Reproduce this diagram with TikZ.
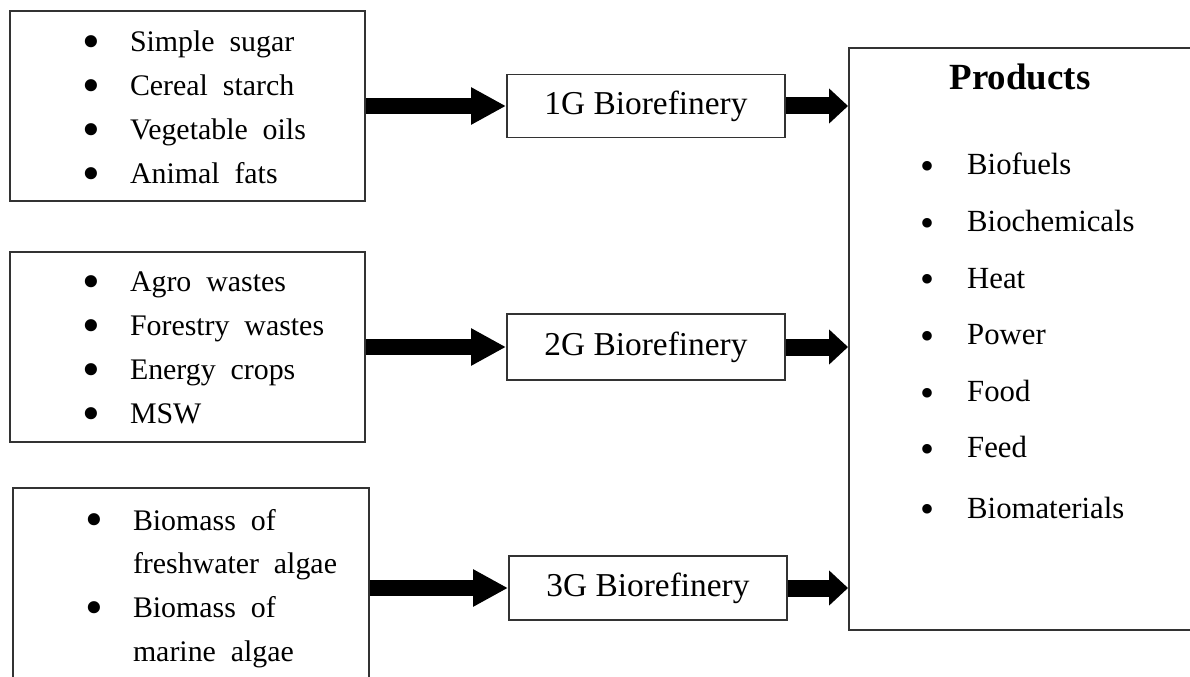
\documentclass[tikz,border=0pt]{standalone}
\usepackage{fontspec}
\setmainfont{Liberation Serif}
\usetikzlibrary{positioning,arrows.meta}
\newcommand{\listfont}{\fontsize{17}{25}\selectfont\spaceskip=.5em\relax}
\newcommand{\prodfont}{\fontsize{17.5}{32.2}\selectfont}
\newcommand{\bigbul}{\smash{\raisebox{-3.6pt}{\scalebox{1.7}{\textbullet}}}}
\newcommand{\smallbul}{\smash{\raisebox{-2.7pt}{\scalebox{1.3}{\textbullet}}}}

\begin{document}
\begin{tikzpicture}[inner sep=0.4mm,
  box/.style={draw=black!80,line width=1.1pt,fill=white,inner sep=0pt},
  refbox/.style={box,minimum width=5.56cm,font=\fontsize{19}{22}\selectfont},
  feedarrow/.style={line width=0.32cm,-{Triangle[length=0.7cm,width=0.7cm]}},
  outarrow/.style={line width=0.34cm,-{Triangle[length=0.38cm,width=0.68cm]}}]
\useasboundingbox (0,0) rectangle (23.8,-13.54);
\clip (0,0) rectangle (23.8,-13.54);

\node (in1) at (3.75,-2.12) [box,minimum width=7.1cm,minimum height=3.8cm] {};
\node (in2) at (3.75,-6.94) [box,minimum width=7.1cm,minimum height=3.8cm] {};
\node (in3) at (3.82,-12.08) [box,minimum width=7.12cm,minimum height=4.64cm] {};

\node (list1) at (1.64,-1.04) [anchor=base west,inner sep=0pt] {\listfont
  \begin{tabular}[t]{@{}l@{\hspace{17pt}}l@{}}
  \bigbul & Simple sugar\\
  \bigbul & Cereal starch\\
  \bigbul & Vegetable oils\\
  \bigbul & Animal fats
  \end{tabular}};
\node (list2) at (1.64,-5.84) [anchor=base west,inner sep=0pt] {\listfont
  \begin{tabular}[t]{@{}l@{\hspace{17pt}}l@{}}
  \bigbul & Agro wastes\\
  \bigbul & Forestry wastes\\
  \bigbul & Energy crops\\
  \bigbul & MSW
  \end{tabular}};
\node (list3) at (1.70,-10.6) [anchor=base west,inner sep=0pt] {\listfont\baselineskip=24.5pt
  \begin{tabular}[t]{@{}l@{\hspace{17pt}}l@{}}
  \bigbul & Biomass of\\
   & freshwater algae\\
  \bigbul & Biomass of\\
   & marine algae
  \end{tabular}};

\node (g1) at (12.92,-2.12) [refbox,minimum height=1.26cm] {1G Biorefinery};
\node (g2) at (12.92,-6.94) [refbox,minimum height=1.32cm] {2G Biorefinery};
\node (g3) at (12.96,-11.76) [refbox,minimum height=1.28cm] {3G Biorefinery};

\node (prod) at (20.49,-6.78) [box,minimum width=7.02cm,minimum height=11.64cm] {};
\node (title) at (20.4,-1.8) [anchor=base,inner sep=0pt,font=\fontsize{21}{24}\selectfont\bfseries] {Products};
\node (plist) at (18.4,-3.5) [anchor=base west,inner sep=0pt] {\prodfont
  \begin{tabular}[t]{@{}l@{\hspace{18.7pt}}l@{}}
  \smallbul & Biofuels\\
  \smallbul & Biochemicals\\
  \smallbul & Heat\\
  \smallbul & Power\\
  \smallbul & Food\\
  \smallbul & Feed\\[2pt]
  \smallbul & Biomaterials
  \end{tabular}};

\draw [feedarrow] (in1.east |- g1) -- (g1.west);
\draw [feedarrow] (in2.east |- g2) -- (g2.west);
\draw [feedarrow] (in3.east |- g3) -- (g3.west);
\draw [outarrow] (g1.east) -- (g1.east -| prod.west);
\draw [outarrow] (g2.east) -- (g2.east -| prod.west);
\draw [outarrow] (g3.east) -- (g3.east -| prod.west);

\end{tikzpicture}
\end{document}
